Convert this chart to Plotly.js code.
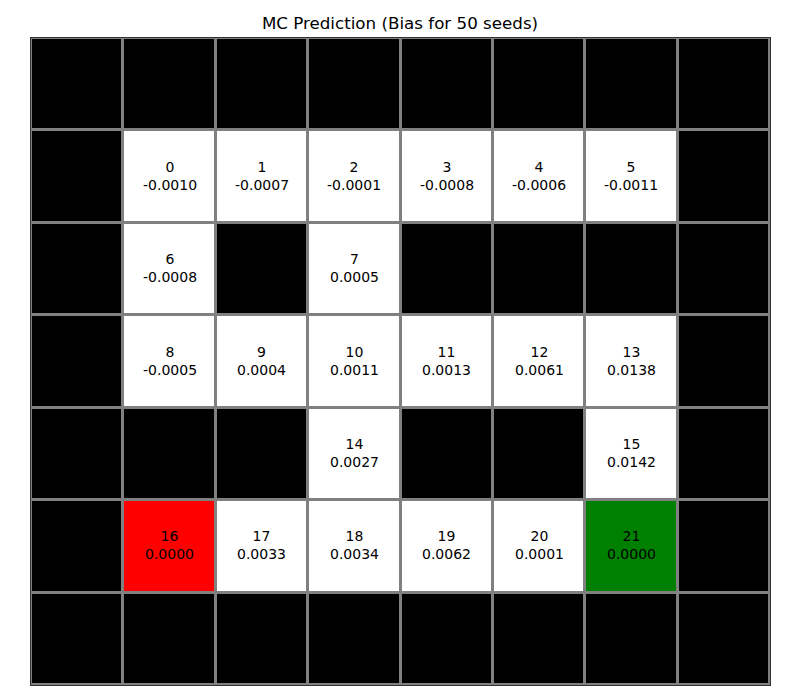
<!DOCTYPE html>
<html>
<head>
<meta charset="utf-8">
<script src="https://cdn.plot.ly/plotly-3.0.1.min.js"></script>
<style>html,body{margin:0;padding:0;background:#fff;}</style>
</head>
<body>
<div id="chart" style="width:800px;height:700px;"></div>
<script>
// Grid map: W = wall, . = open state, S = start (red), G = goal (green)
var gridRows = [
  "WWWWWWWW",
  "W......W",
  "W.W.WWWW",
  "W......W",
  "WWW.WW.W",
  "WS....GW",
  "WWWWWWWW"
];
// State ids in reading order over the non-wall cells
var stateIds = [0,1,2,3,4,5,6,7,8,9,10,11,12,13,14,15,16,17,18,19,20,21];
var biasValues = [-0.0010,-0.0007,-0.0001,-0.0008,-0.0006,-0.0011,
                  -0.0008,0.0005,
                  -0.0005,0.0004,0.0011,0.0013,0.0061,0.0138,
                  0.0027,0.0142,
                  0.0000,0.0033,0.0034,0.0062,0.0001,0.0000];
var cellCodes = {"W":0, ".":1, "S":2, "G":3};

var z = [], annotations = [], k = 0;
for (var r = 0; r < gridRows.length; r++) {
  var row = [];
  for (var c = 0; c < gridRows[r].length; c++) {
    var ch = gridRows[r][c];
    row.push(cellCodes[ch]);
    if (ch !== "W") {
      annotations.push({
        x: c, y: r, xref: "x", yref: "y", showarrow: false,
        yshift: 1,
        text: stateIds[k] + "<br>" + biasValues[k].toFixed(4),
        font: {family: "DejaVu Sans", size: 14, color: "#000"}
      });
      k++;
    }
  }
  z.push(row);
}

var trace = {
  type: "heatmap",
  z: z,
  x: [0,1,2,3,4,5,6,7],
  y: [0,1,2,3,4,5,6],
  zmin: 0, zmax: 3,
  colorscale: [[0,"#000000"],[0.25,"#000000"],[0.25,"#ffffff"],[0.5,"#ffffff"],
               [0.5,"#ff0000"],[0.75,"#ff0000"],[0.75,"#008000"],[1,"#008000"]],
  showscale: false,
  xgap: 3, ygap: 3,
  hoverinfo: "skip"
};

var layout = {
  width: 800, height: 700,
  margin: {l: 31, r: 30, t: 38, b: 15},
  paper_bgcolor: "#ffffff",
  plot_bgcolor: "#808080",
  title: {text: "MC Prediction (Bias for 50 seeds)", x: 0.5, xanchor: "center",
          y: 1 - 23/700, yanchor: "middle",
          font: {family: "DejaVu Sans", size: 16.7, color: "#000"}},
  xaxis: {range: [-0.5, 7.5], showticklabels: false, ticks: "", showgrid: false,
          zeroline: false, showline: true, mirror: true, linecolor: "#333", linewidth: 1, fixedrange: true},
  yaxis: {range: [6.5, -0.5], showticklabels: false, ticks: "", showgrid: false,
          zeroline: false, showline: true, mirror: true, linecolor: "#333", linewidth: 1, fixedrange: true},
  annotations: annotations,
  showlegend: false
};

Plotly.newPlot("chart", [trace], layout, {displayModeBar: false, staticPlot: true});
</script>
</body>
</html>
